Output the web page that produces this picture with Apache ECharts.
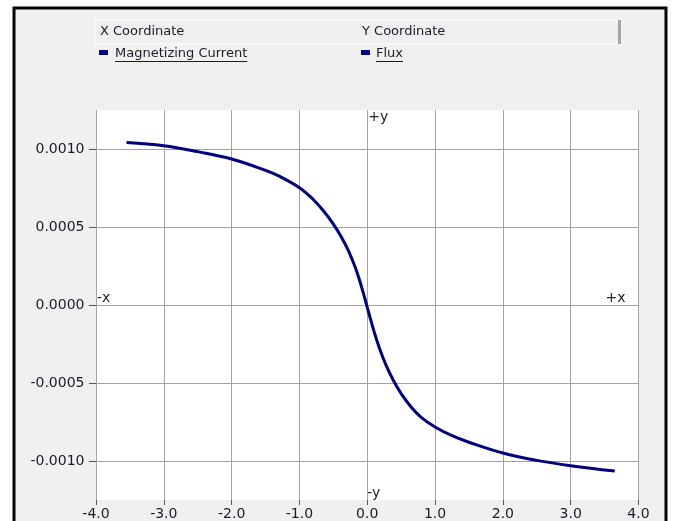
<!DOCTYPE html>
<html>
<head>
<meta charset="utf-8">
<script src="https://cdn.jsdelivr.net/npm/echarts@6/dist/echarts.min.js"></script>
<style>
  html, body { margin: 0; padding: 0; background: #ffffff; }
  #chart { width: 674px; height: 521px; }
</style>
</head>
<body>
<div id="chart"></div>
<script>
// Magnetizing current (A) against flux (Wb) for the magnetization curve
const current = [-3.55, -3.0, -2.5, -2.0, -1.5, -1.29, -1.0, -0.8, -0.65, -0.5, -0.38, -0.28, -0.18, -0.11, -0.045, 0.0,
                 0.05, 0.1, 0.18, 0.28, 0.38, 0.5, 0.65, 0.8, 1.0, 1.25, 1.5, 2.0, 2.5, 3.0, 3.65];
const flux = [0.001042, 0.001021, 0.000983, 0.000936, 0.000863, 0.000824, 0.000752, 0.000678, 0.000606, 0.000519,
              0.000435, 0.00035, 0.000245, 0.000154, 0.000057, -0.000015,
              -0.000094, -0.000169, -0.000277, -0.000389, -0.000479, -0.000568, -0.000655, -0.000722, -0.000782,
              -0.000838, -0.00088, -0.000949, -0.000996, -0.00103, -0.001064];

// Axis ticks
const xTicks = [-4, -3, -2, -1, 0, 1, 2, 3, 4];
const yTicks = [-0.001, -0.0005, 0, 0.0005, 0.001];
const yRange = [-0.00125, 0.00125];

// Header / legend text
const headerX = 'X Coordinate';
const headerY = 'Y Coordinate';
const seriesX = 'Magnetizing Current';
const seriesY = 'Flux';

const FONT = '"DejaVu Sans", Verdana, sans-serif';
const TEXT_COLOR = '#1c1c28';
const NAVY = '#000080';
const GRID_COLOR = '#a3a3a3';

function textWidth(str, size) {
  const ctx = document.createElement('canvas').getContext('2d');
  ctx.font = size + 'px "DejaVu Sans"';
  return ctx.measureText(str).width;
}

const chart = echarts.init(document.getElementById('chart'), null, { renderer: 'canvas' });

const points = current.map((c, i) => [c, flux[i]]);

const option = {
  backgroundColor: '#ffffff',
  animation: false,
  grid: {
    left: 96, right: 35.5, top: 110, bottom: 21,
    show: true, backgroundColor: '#ffffff', borderWidth: 0
  },
  xAxis: {
    type: 'value',
    min: xTicks[0], max: xTicks[xTicks.length - 1], interval: 1,
    axisLine: { show: false, onZero: false },
    axisTick: { show: true, length: 5, lineStyle: { color: '#555' } },
    axisLabel: {
      margin: 7, color: TEXT_COLOR, fontFamily: FONT, fontSize: 14,
      formatter: v => v.toFixed(1)
    },
    splitLine: { show: true, lineStyle: { color: GRID_COLOR, width: 1 } }
  },
  yAxis: {
    type: 'value',
    min: yRange[0], max: yRange[1],
    axisLine: { show: false, onZero: false },
    axisTick: { show: true, length: 7, lineStyle: { color: '#555' }, customValues: yTicks },
    axisLabel: {
      margin: 11.5, color: TEXT_COLOR, fontFamily: FONT, fontSize: 14,
      customValues: yTicks,
      formatter: v => v.toFixed(4)
    },
    splitLine: { show: true, lineStyle: { color: GRID_COLOR, width: 1 } }
  },
  series: [{
    name: seriesY,
    type: 'line',
    data: points,
    smooth: 0.4,
    showSymbol: false,
    symbol: 'none',
    lineStyle: { color: NAVY, width: 3 },
    z: 5
  }]
};

chart.setOption(option);

// Frame, header strip and legend rows, plus the quadrant labels on the zero lines
const wX = textWidth(seriesX, 13);
const wY = textWidth(seriesY, 13);
const top0 = chart.convertToPixel({ gridIndex: 0 }, [0, yRange[1]]);
const bot0 = chart.convertToPixel({ gridIndex: 0 }, [0, yRange[0]]);
const left0 = chart.convertToPixel({ gridIndex: 0 }, [xTicks[0], 0]);
const right0 = chart.convertToPixel({ gridIndex: 0 }, [xTicks[xTicks.length - 1], 0]);

const quadStyle = { fill: TEXT_COLOR, font: '14px ' + FONT, verticalAlign: 'middle' };

chart.setOption({
  graphic: [
    // panel with black frame
    { type: 'rect', z: -100, shape: { x: 14, y: 8, width: 652, height: 530 },
      style: { fill: '#f0f0f0', stroke: '#000', lineWidth: 3 } },
    // header strip
    { type: 'rect', z: -90, shape: { x: 95, y: 20, width: 525, height: 24 },
      style: { fill: '#efefef', stroke: '#ffffff', lineWidth: 1 } },
    { type: 'rect', z: -80, shape: { x: 618, y: 20, width: 3, height: 24 },
      style: { fill: '#a6a6a6' } },
    { type: 'text', x: 100, y: 32, style: { text: headerX, fill: TEXT_COLOR, font: '13px ' + FONT, verticalAlign: 'middle' } },
    { type: 'text', x: 362, y: 32, style: { text: headerY, fill: TEXT_COLOR, font: '13px ' + FONT, verticalAlign: 'middle' } },
    // legend rows
    { type: 'rect', shape: { x: 99, y: 50, width: 9, height: 5 }, style: { fill: NAVY } },
    { type: 'text', x: 115, y: 54, style: { text: seriesX, fill: TEXT_COLOR, font: '13px ' + FONT, verticalAlign: 'middle' } },
    { type: 'line', shape: { x1: 115, y1: 61.5, x2: 115 + wX, y2: 61.5 }, style: { stroke: TEXT_COLOR, lineWidth: 1 } },
    { type: 'rect', shape: { x: 361, y: 50, width: 9, height: 5 }, style: { fill: NAVY } },
    { type: 'text', x: 376, y: 54, style: { text: seriesY, fill: TEXT_COLOR, font: '13px ' + FONT, verticalAlign: 'middle' } },
    { type: 'line', shape: { x1: 376, y1: 61.5, x2: 376 + wY, y2: 61.5 }, style: { stroke: TEXT_COLOR, lineWidth: 1 } },
    // quadrant labels
    { type: 'text', z: 10, x: top0[0] + 1, y: top0[1] + 7, style: Object.assign({ text: '+y' }, quadStyle) },
    { type: 'text', z: 10, x: bot0[0], y: bot0[1] - 6.5, style: Object.assign({ text: '-y' }, quadStyle) },
    { type: 'text', z: 10, x: left0[0] + 1, y: left0[1] - 6.5, style: Object.assign({ text: '-x' }, quadStyle) },
    { type: 'text', z: 10, x: right0[0] - 13, y: right0[1] - 7, style: Object.assign({ text: '+x', align: 'right' }, quadStyle) }
  ]
});
</script>
</body>
</html>
